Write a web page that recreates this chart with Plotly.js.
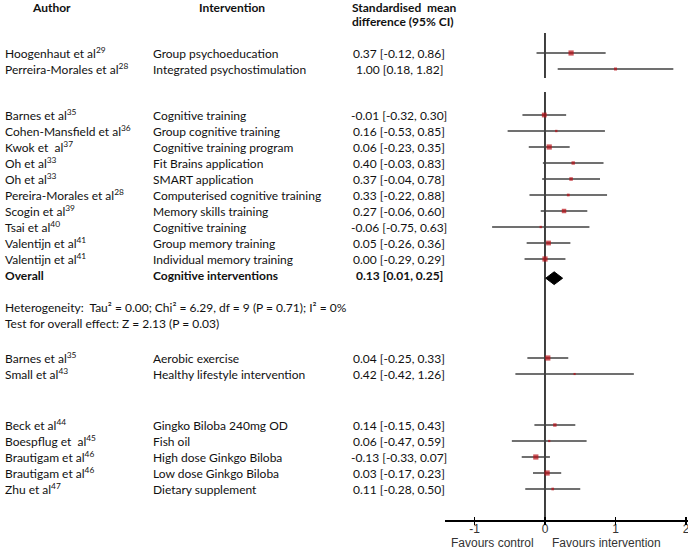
<!DOCTYPE html>
<html>
<head>
<meta charset="utf-8">
<script src="https://cdn.plot.ly/plotly-3.0.1.min.js"></script>
<style>html,body{margin:0;padding:0;background:#fff}#chart{width:688px;height:550px}</style>
</head>
<body>
<div id="chart"></div>
<script>
// ---- data ----
const authors = [
  'Hoogenhaut et al<sup>29</sup>', 'Perreira-Morales et al<sup>28</sup>',
  'Barnes et al<sup>35</sup>', 'Cohen-Mansfield et al<sup>36</sup>', 'Kwok et  al<sup>37</sup>',
  'Oh et al<sup>33</sup>', 'Oh et al<sup>33</sup>', 'Pereira-Morales et al<sup>28</sup>',
  'Scogin et al<sup>39</sup>', 'Tsai et al<sup>40</sup>', 'Valentijn et al<sup>41</sup>', 'Valentijn et al<sup>41</sup>',
  'Barnes et al<sup>35</sup>', 'Small et al<sup>43</sup>',
  'Beck et al<sup>44</sup>', 'Boespflug et  al<sup>45</sup>', 'Brautigam et al<sup>46</sup>',
  'Brautigam et al<sup>46</sup>', 'Zhu et al<sup>47</sup>'
];
const interventions = [
  'Group psychoeducation', 'Integrated psychostimulation',
  'Cognitive training', 'Group cognitive training', 'Cognitive training program',
  'Fit Brains application', 'SMART application', 'Computerised cognitive training',
  'Memory skills training', 'Cognitive training', 'Group memory training', 'Individual memory training',
  'Aerobic exercise', 'Healthy lifestyle intervention',
  'Gingko Biloba 240mg OD', 'Fish oil', 'High dose Ginkgo Biloba', 'Low dose Ginkgo Biloba', 'Dietary supplement'
];
const smd    = [0.37, 1.00, -0.01, 0.16, 0.06, 0.40, 0.37, 0.33, 0.27, -0.06, 0.05, 0.00, 0.04, 0.42, 0.14, 0.06, -0.13, 0.03, 0.11];
const ciLow  = [-0.12, 0.18, -0.32, -0.53, -0.23, -0.03, -0.04, -0.22, -0.06, -0.75, -0.26, -0.29, -0.25, -0.42, -0.15, -0.47, -0.33, -0.17, -0.28];
const ciHigh = [0.86, 1.82, 0.30, 0.85, 0.35, 0.83, 0.78, 0.88, 0.60, 0.63, 0.36, 0.29, 0.33, 1.26, 0.43, 0.59, 0.07, 0.23, 0.50];
const groupOf = [0, 0, 1, 1, 1, 1, 1, 1, 1, 1, 1, 1, 2, 2, 3, 3, 3, 3, 3];

const overallLabel = ['Overall', 'Cognitive interventions'];
const overallSMD = 0.13, overallLow = 0.01, overallHigh = 0.25;
const heterogeneityText = 'Heterogeneity:  Tau² = 0.00; Chi² = 6.29, df = 9 (P = 0.71); I² = 0%';
const overallEffectText = 'Test for overall effect: Z = 2.13 (P = 0.03)';
const tickValues = [-1, 0, 1, 2];
const tickLabels = ['-1', '0', '1', '2'];
const favourLeft = 'Favours control', favourRight = 'Favours intervention';

// ---- layout helpers (row units: 1 row = 16 px) ----
const groupStart = [0, 3.875, 19.0625, 23.25];
const rowY = [];
const counter = [0, 0, 0, 0];
groupOf.forEach(g => { rowY.push(groupStart[g] + counter[g]); counter[g]++; });
const overallRow = groupStart[1] + 10;
const hetRow = 15.875, effRow = 16.875;

const fmt = v => v.toFixed(2);
const ciText = smd.map((v, i) => `${fmt(v)} [${fmt(ciLow[i])}, ${fmt(ciHigh[i])}]`);

// box size from inverse variance within each subgroup
const invVar = ciLow.map((l, i) => 1 / Math.pow(ciHigh[i] - l, 2));
const maxW = [0, 0, 0, 0];
invVar.forEach((w, i) => { maxW[groupOf[i]] = Math.max(maxW[groupOf[i]], w); });
const boxSize = invVar.map((w, i) => 1.6 + 3.6 * Math.pow(w / maxW[groupOf[i]], 0.9));

const TXT = 'Lato, "Open Sans", sans-serif';
const AX = '"Liberation Sans", Arial, sans-serif';

// CI lines
const lx = [], ly = [];
smd.forEach((v, i) => { lx.push(ciLow[i], ciHigh[i], null); ly.push(rowY[i], rowY[i], null); });

const traces = [
  {x: lx, y: ly, mode: 'lines', type: 'scatter', line: {color: '#404040', width: 1.5}, hoverinfo: 'skip', showlegend: false},
  {x: smd, y: rowY, mode: 'markers', type: 'scatter', marker: {symbol: 'square', color: '#b80d14', size: boxSize, line: {width: 0}}, showlegend: false},
  {x: [overallLow, overallSMD, overallHigh, overallSMD, overallLow],
   y: [overallRow + 0.2, overallRow - 0.2, overallRow + 0.2, overallRow + 0.6, overallRow + 0.2],
   mode: 'lines', fill: 'toself', fillcolor: '#000', line: {color: '#000', width: 1}, type: 'scatter', showlegend: false},
  {x: [0], y: [0], xaxis: 'x2', mode: 'none', type: 'scatter', showlegend: false, hoverinfo: 'skip'}
];

const ann = [];
const addText = (text, xPix, y, anchor, bold, extra) => {
  ann.push(Object.assign({
    text: bold ? `<b>${text}</b>` : text, xref: 'paper', yref: 'y', x: xPix / 688, y: y,
    xanchor: anchor, yanchor: 'middle', showarrow: false,
    font: {family: TXT, size: 12, color: '#111'}
  }, extra || {}));
};
addText('Author', 51, -2.86, 'center', true);
addText('Intervention', 232, -2.86, 'center', true);
addText('Standardised  mean', 350, -2.86, 'left', true);
addText('difference (95% CI)', 350, -1.94, 'left', true);
authors.forEach((a, i) => {
  addText(a, 3, rowY[i], 'left', false);
  addText(interventions[i], 151, rowY[i], 'left', false);
  addText(ciText[i], 399, rowY[i], 'center', false);
});
addText(overallLabel[0], 3, overallRow, 'left', true);
addText(overallLabel[1], 151, overallRow, 'left', true);
addText(`${fmt(overallSMD)} [${fmt(overallLow)}, ${fmt(overallHigh)}]`, 399, overallRow, 'center', true);
addText(heterogeneityText, 3, hetRow, 'left', false);
addText(overallEffectText, 3, effRow, 'left', false);
ann.push({text: favourLeft, xref: 'paper', yref: 'paper', x: 536 / 688, y: -23 / 520, xanchor: 'right', yanchor: 'middle',
  showarrow: false, font: {family: AX, size: 12, color: '#333'}});
ann.push({text: favourRight, xref: 'paper', yref: 'paper', x: 550 / 688, y: -23 / 520, xanchor: 'left', yanchor: 'middle',
  showarrow: false, font: {family: AX, size: 12, color: '#333'}});

const xRange = [-1.418, 2.028];
const layout = {
  width: 688, height: 550,
  margin: {l: 0, r: 0, t: 0, b: 30, pad: 0},
  paper_bgcolor: '#fff', plot_bgcolor: '#fff',
  showlegend: false,
  xaxis: {domain: [445 / 688, 1], range: xRange, showgrid: false, zeroline: false, showline: true,
    linecolor: '#000', linewidth: 1.5, ticks: 'inside', ticklen: 3, tickwidth: 1.5, tickcolor: '#000',
    ticklabeloverflow: 'allow', ticklabelstandoff: -3,
    tickvals: tickValues, ticktext: tickLabels, tickfont: {family: AX, size: 12, color: '#333'}, anchor: 'y', fixedrange: true},
  xaxis2: {domain: [445 / 688, 1], range: xRange, overlaying: 'x', anchor: 'y', side: 'bottom', showgrid: false,
    zeroline: false, showline: false, ticks: 'outside', ticklen: 4, tickwidth: 1.5, tickcolor: '#000',
    tickvals: tickValues, showticklabels: false},
  yaxis: {range: [29.1875, -3.3125], visible: false, showgrid: false, zeroline: false, fixedrange: true},
  shapes: [
    {type: 'line', xref: 'x', yref: 'y', x0: 0, x1: 0, y0: -1.25, y1: 1.5625, line: {color: '#000', width: 1.5}, layer: 'below'},
    {type: 'line', xref: 'x', yref: 'y', x0: 0, x1: 0, y0: 2.4375, y1: 29.1875, line: {color: '#000', width: 1.5}, layer: 'below'}
  ],
  annotations: ann
};

Plotly.newPlot('chart', traces, layout, {displayModeBar: false, staticPlot: true});
</script>
</body>
</html>
